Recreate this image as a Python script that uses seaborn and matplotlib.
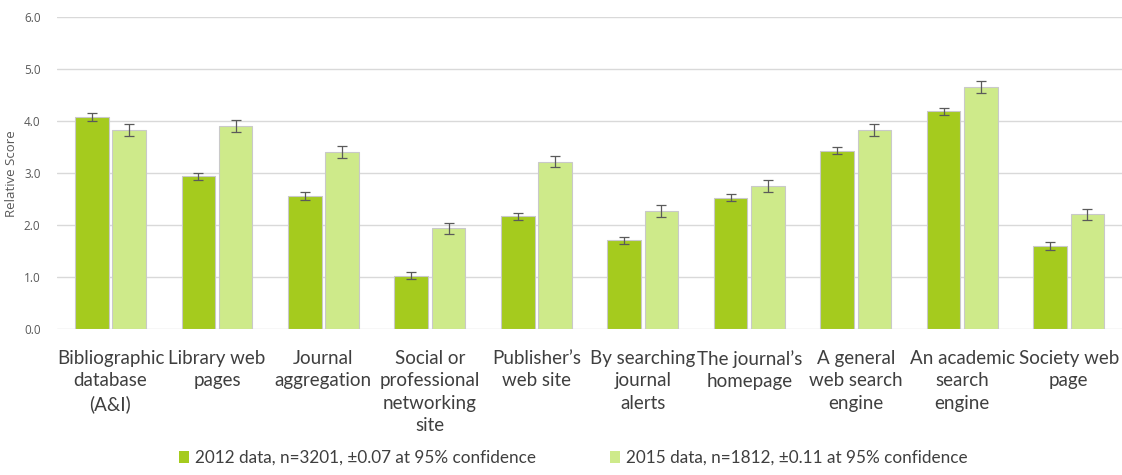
import matplotlib
matplotlib.use("Agg")
import matplotlib.pyplot as plt
from matplotlib.patches import Patch
import seaborn as sns
import pandas as pd

# Discovery routes, in display order
sources = [
    "Bibliographic\ndatabase\n(A&I)",
    "Library web\npages",
    "Journal\naggregation",
    "Social or\nprofessional\nnetworking\nsite",
    "Publisher\u2019s\nweb site",
    "By searching\njournal\nalerts",
    "The journal\u2019s\nhomepage",
    "A general\nweb search\nengine",
    "An academic\nsearch\nengine",
    "Society web\npage",
]

series_names = [
    "2012 data, n=3201, \u00b10.07 at 95% confidence",
    "2015 data, n=1812, \u00b10.11 at 95% confidence",
]

scores_2012 = [4.08, 2.94, 2.56, 1.03, 2.17, 1.71, 2.53, 3.43, 4.19, 1.60]
scores_2015 = [3.83, 3.91, 3.41, 1.94, 3.22, 2.27, 2.75, 3.83, 4.66, 2.21]
conf_2012 = 0.07
conf_2015 = 0.11

y_ticks = [0.0, 1.0, 2.0, 3.0, 4.0, 5.0, 6.0]

colors = ["#A5CB1E", "#CEEA8A"]
grid_color = "#D9D9D9"
text_color = "#595959"
label_color = "#3F3F3F"

df = pd.DataFrame({
    "source": sources * 2,
    "score": scores_2012 + scores_2015,
    "series": [series_names[0]] * len(sources) + [series_names[1]] * len(sources),
})

sns.set_theme(style="white")
plt.rcParams["font.family"] = ["Lato", "DejaVu Sans"]

fig = plt.figure(figsize=(11.22, 4.75), dpi=100)
ax = fig.add_axes([0.051, 0.307, 0.949, 0.657])

sns.barplot(
    data=df, x="source", y="score", hue="series",
    order=sources, hue_order=series_names, palette=colors, saturation=1,
    width=0.7, gap=0.1, errorbar=None, legend=False, ax=ax,
    edgecolor="#C9C9C9", linewidth=0.8,
)

# Confidence intervals drawn at each bar's centre
conf = [conf_2012] * len(sources) + [conf_2015] * len(sources)
bars = [p for p in ax.patches if p.get_height() > 0]
centres = [b.get_x() + b.get_width() / 2 for b in bars]
heights = [b.get_height() for b in bars]
ax.errorbar(centres, heights, yerr=conf, fmt="none", ecolor="#5A5A5A",
            elinewidth=0.9, capsize=3.5, capthick=0.9, zorder=5)

ax.set_xlim(-0.5, len(sources) - 0.5)
ax.set_ylim(0, 6.0)
ax.set_yticks(y_ticks)
ax.set_yticklabels([f"{t:.1f}" for t in y_ticks], fontsize=8.5,
                   color=text_color, family=["Open Sans", "DejaVu Sans"])
ax.yaxis.grid(True, color=grid_color, linewidth=1)
ax.set_axisbelow(True)
for s in ax.spines.values():
    s.set_visible(False)
ax.tick_params(axis="y", length=0, pad=12)
ax.tick_params(axis="x", length=0, pad=15)
ax.set_xticks(range(len(sources)))
ax.set_xticklabels(sources, fontsize=13.5, color=label_color, linespacing=1.38)
ax.set_xlabel("")
ax.set_ylabel("Relative Score", fontsize=9.5, color=text_color,
              family=["Open Sans", "DejaVu Sans"], labelpad=4)

handles = [Patch(facecolor=c, edgecolor="none") for c in colors]
fig.legend(handles, series_names, loc="center", bbox_to_anchor=(0.511, 0.036),
           ncol=2, frameon=False, fontsize=12.3, labelcolor=label_color,
           handlelength=0.6, handleheight=0.75, handletextpad=0.35,
           columnspacing=4.3)

fig.savefig("out.png", dpi=100, facecolor="white")
